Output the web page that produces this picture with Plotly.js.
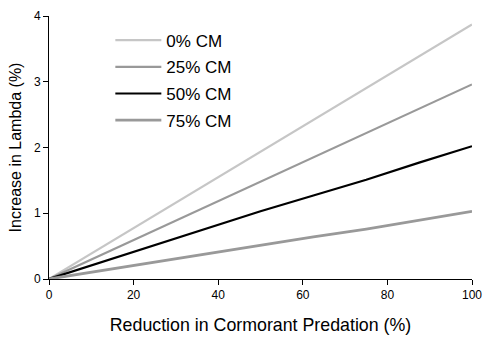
<!DOCTYPE html>
<html>
<head>
<meta charset="utf-8">
<script src="https://cdn.plot.ly/plotly-3.0.1.min.js"></script>
<style>html,body{margin:0;padding:0;background:#fff;}#chart{width:485px;height:337px;}</style>
</head>
<body>
<div id="chart"></div>
<script>
const reduction = [0, 12.5, 25, 37.5, 50, 62.5, 75, 87.5, 100];
const cm0  = [0, 0.485, 0.97, 1.45, 1.94, 2.42, 2.90, 3.39, 3.87];
const cm25 = [0, 0.37, 0.74, 1.11, 1.48, 1.85, 2.22, 2.59, 2.96];
const cm50 = [0, 0.26, 0.51, 0.77, 1.03, 1.27, 1.51, 1.77, 2.02];
const cm75 = [0, 0.13, 0.26, 0.38, 0.51, 0.64, 0.76, 0.90, 1.03];
const seriesNames = ['0% CM', '25% CM', '50% CM', '75% CM'];
const seriesValues = [cm0, cm25, cm50, cm75];
const xTicks = [0, 20, 40, 60, 80, 100];
const yTicks = [0, 1, 2, 3, 4];

const styles = [
  {color: '#c6c6c6', width: 2.2},
  {color: '#999999', width: 2.2},
  {color: '#000000', width: 2.2},
  {color: '#999999', width: 2.8}
];

const traces = seriesValues.map((vals, i) => ({
  x: reduction, y: vals, type: 'scatter', mode: 'lines',
  name: seriesNames[i], legendgroup: 'g' + i,
  line: {color: styles[i].color, width: styles[i].width}
}));

const font = 'Arial, "Liberation Sans", sans-serif';
const layout = {
  width: 485, height: 337,
  margin: {l: 49, r: 13, t: 16, b: 58},
  paper_bgcolor: '#fff', plot_bgcolor: '#fff',
  font: {family: font, color: '#000'},
  showlegend: true,
  legend: {x: 0.145, y: 0.975, xanchor: 'left', yanchor: 'top',
           bgcolor: 'rgba(0,0,0,0)', font: {size: 17, family: font},
           tracegroupgap: 1.6, itemwidth: 46},
  xaxis: {range: [0, 100], tickvals: xTicks, ticks: 'outside', ticklen: 5,
          tickcolor: '#000', showline: true, linecolor: '#000', linewidth: 1,
          showgrid: false, zeroline: false, tickfont: {size: 12},
          title: {text: 'Reduction in Cormorant Predation (%)', font: {size: 17.8}, standoff: 17}},
  yaxis: {range: [0, 4], tickvals: yTicks, ticks: 'outside', ticklen: 5,
          tickcolor: '#000', showline: true, linecolor: '#000', linewidth: 1,
          showgrid: false, zeroline: false, tickfont: {size: 12},
          title: {text: 'Increase in Lambda (%)', font: {size: 16}, standoff: 8}}
};

Plotly.newPlot('chart', traces, layout, {displayModeBar: false, staticPlot: true});
</script>
</body>
</html>
